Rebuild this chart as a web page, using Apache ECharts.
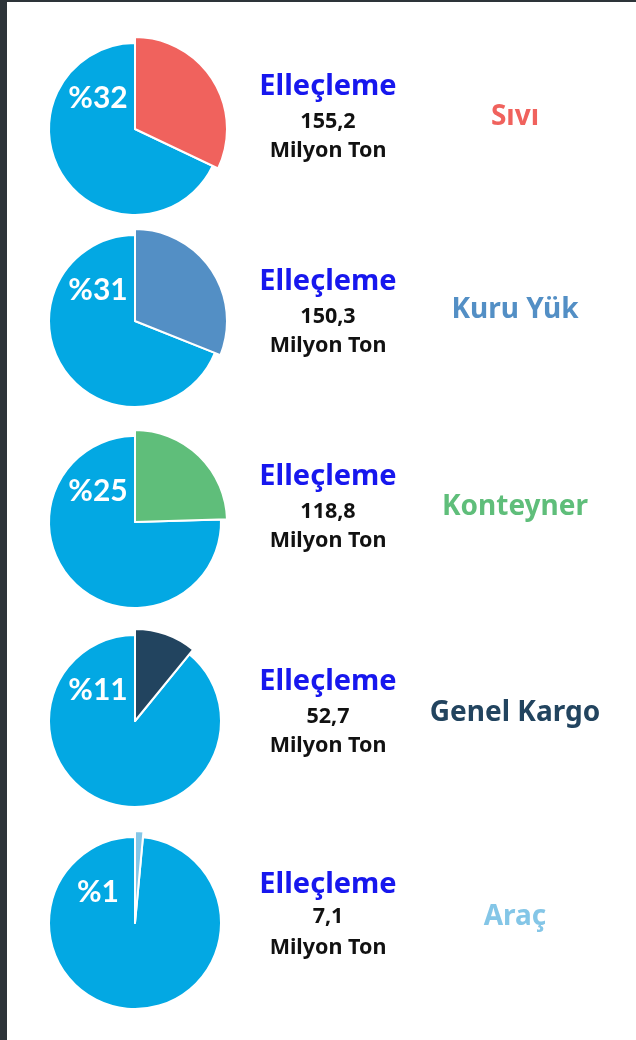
<!DOCTYPE html>
<html lang="tr">
<head>
<meta charset="utf-8" />
<title>Elleçleme</title>
<script src="https://cdn.jsdelivr.net/npm/echarts@6/dist/echarts.min.js"></script>
<style>
  html, body { margin: 0; padding: 0; background: #2d3439; }
  body { width: 636px; height: 1040px; position: relative; overflow: hidden; }
  #chart { position: absolute; left: 7px; top: 2px; width: 629px; height: 1038px; background: #fff; }
</style>
</head>
<body>
<div id="chart"></div>
<script>
// kategoriler ve değerler (milyon ton)
const categories = ['Sıvı', 'Kuru Yük', 'Konteyner', 'Genel Kargo', 'Araç'];
const values = [155.2, 150.3, 118.8, 52.7, 7.1];
const sliceColors = ['#f0625d', '#538fc5', '#5fbe7a', '#22445f', '#84c6e7'];
const titleText = 'Elleçleme';
const unitText = 'Milyon Ton';

// yerleşim (sayfa koordinatları)
const ox = 7, oy = 2;
const rowCenters = [129, 321, 522, 721, 923];
const titleY = [87, 282, 477, 682, 885];
const numberY = [122, 317, 512, 717, 917];
const unitY = [151, 346, 541, 746, 948];
const catY = [117, 310, 507, 713, 917];

const total = values.reduce((a, b) => a + b, 0);
const baseBlue = '#03a8e3';
const font = '"Noto Sans", sans-serif';

const chart = echarts.init(document.getElementById('chart'));

const series = [];
const graphic = [];
values.forEach(function (v, i) {
  const center = [135 - ox, rowCenters[i] - oy];
  const rest = total - v;
  // mavi zemin dilimi
  series.push({
    type: 'pie', silent: true, radius: [0, 86], center: center,
    startAngle: 90, clockwise: true, label: { show: false }, labelLine: { show: false },
    itemStyle: { borderColor: '#fff', borderWidth: 2 },
    data: [
      { value: v, itemStyle: { opacity: 0 } },
      { value: rest, itemStyle: { color: baseBlue } }
    ]
  });
  // renkli dilim (biraz daha büyük)
  series.push({
    type: 'pie', silent: true, radius: [0, 92], center: center,
    startAngle: 90, clockwise: true, label: { show: false }, labelLine: { show: false },
    itemStyle: { borderColor: '#fff', borderWidth: 2 },
    data: [
      { value: v, itemStyle: { color: sliceColors[i] } },
      { value: rest, itemStyle: { opacity: 0 } }
    ]
  });
  const pct = Math.round(v / total * 100);
  graphic.push({
    type: 'text', silent: true, z: 100,
    style: { x: 98 - ox, y: rowCenters[i] - 31 - oy, text: '%' + pct, fill: '#fff',
      font: 'bold 30px Lato, sans-serif', textAlign: 'center', textVerticalAlign: 'middle' }
  });
  graphic.push({
    type: 'text', silent: true, z: 100,
    style: { x: 328 - ox, y: titleY[i] - oy, text: titleText, fill: '#1717ee',
      font: 'bold 29px ' + font, textAlign: 'center', textVerticalAlign: 'middle' }
  });
  graphic.push({
    type: 'text', silent: true, z: 100,
    style: { x: 328 - ox, y: numberY[i] - oy, text: v.toFixed(1).replace('.', ','), fill: '#111',
      font: 'bold 21.5px ' + font, textAlign: 'center', textVerticalAlign: 'middle' }
  });
  graphic.push({
    type: 'text', silent: true, z: 100,
    style: { x: 328 - ox, y: unitY[i] - oy, text: unitText, fill: '#111',
      font: 'bold 21.5px ' + font, textAlign: 'center', textVerticalAlign: 'middle' }
  });
  graphic.push({
    type: 'text', silent: true, z: 100,
    style: { x: 515 - ox, y: catY[i] - oy, text: categories[i], fill: sliceColors[i],
      font: 'bold 28px ' + font, textAlign: 'center', textVerticalAlign: 'middle' }
  });
});

chart.setOption({
  animation: false,
  series: series,
  graphic: graphic
});
</script>
</body>
</html>
